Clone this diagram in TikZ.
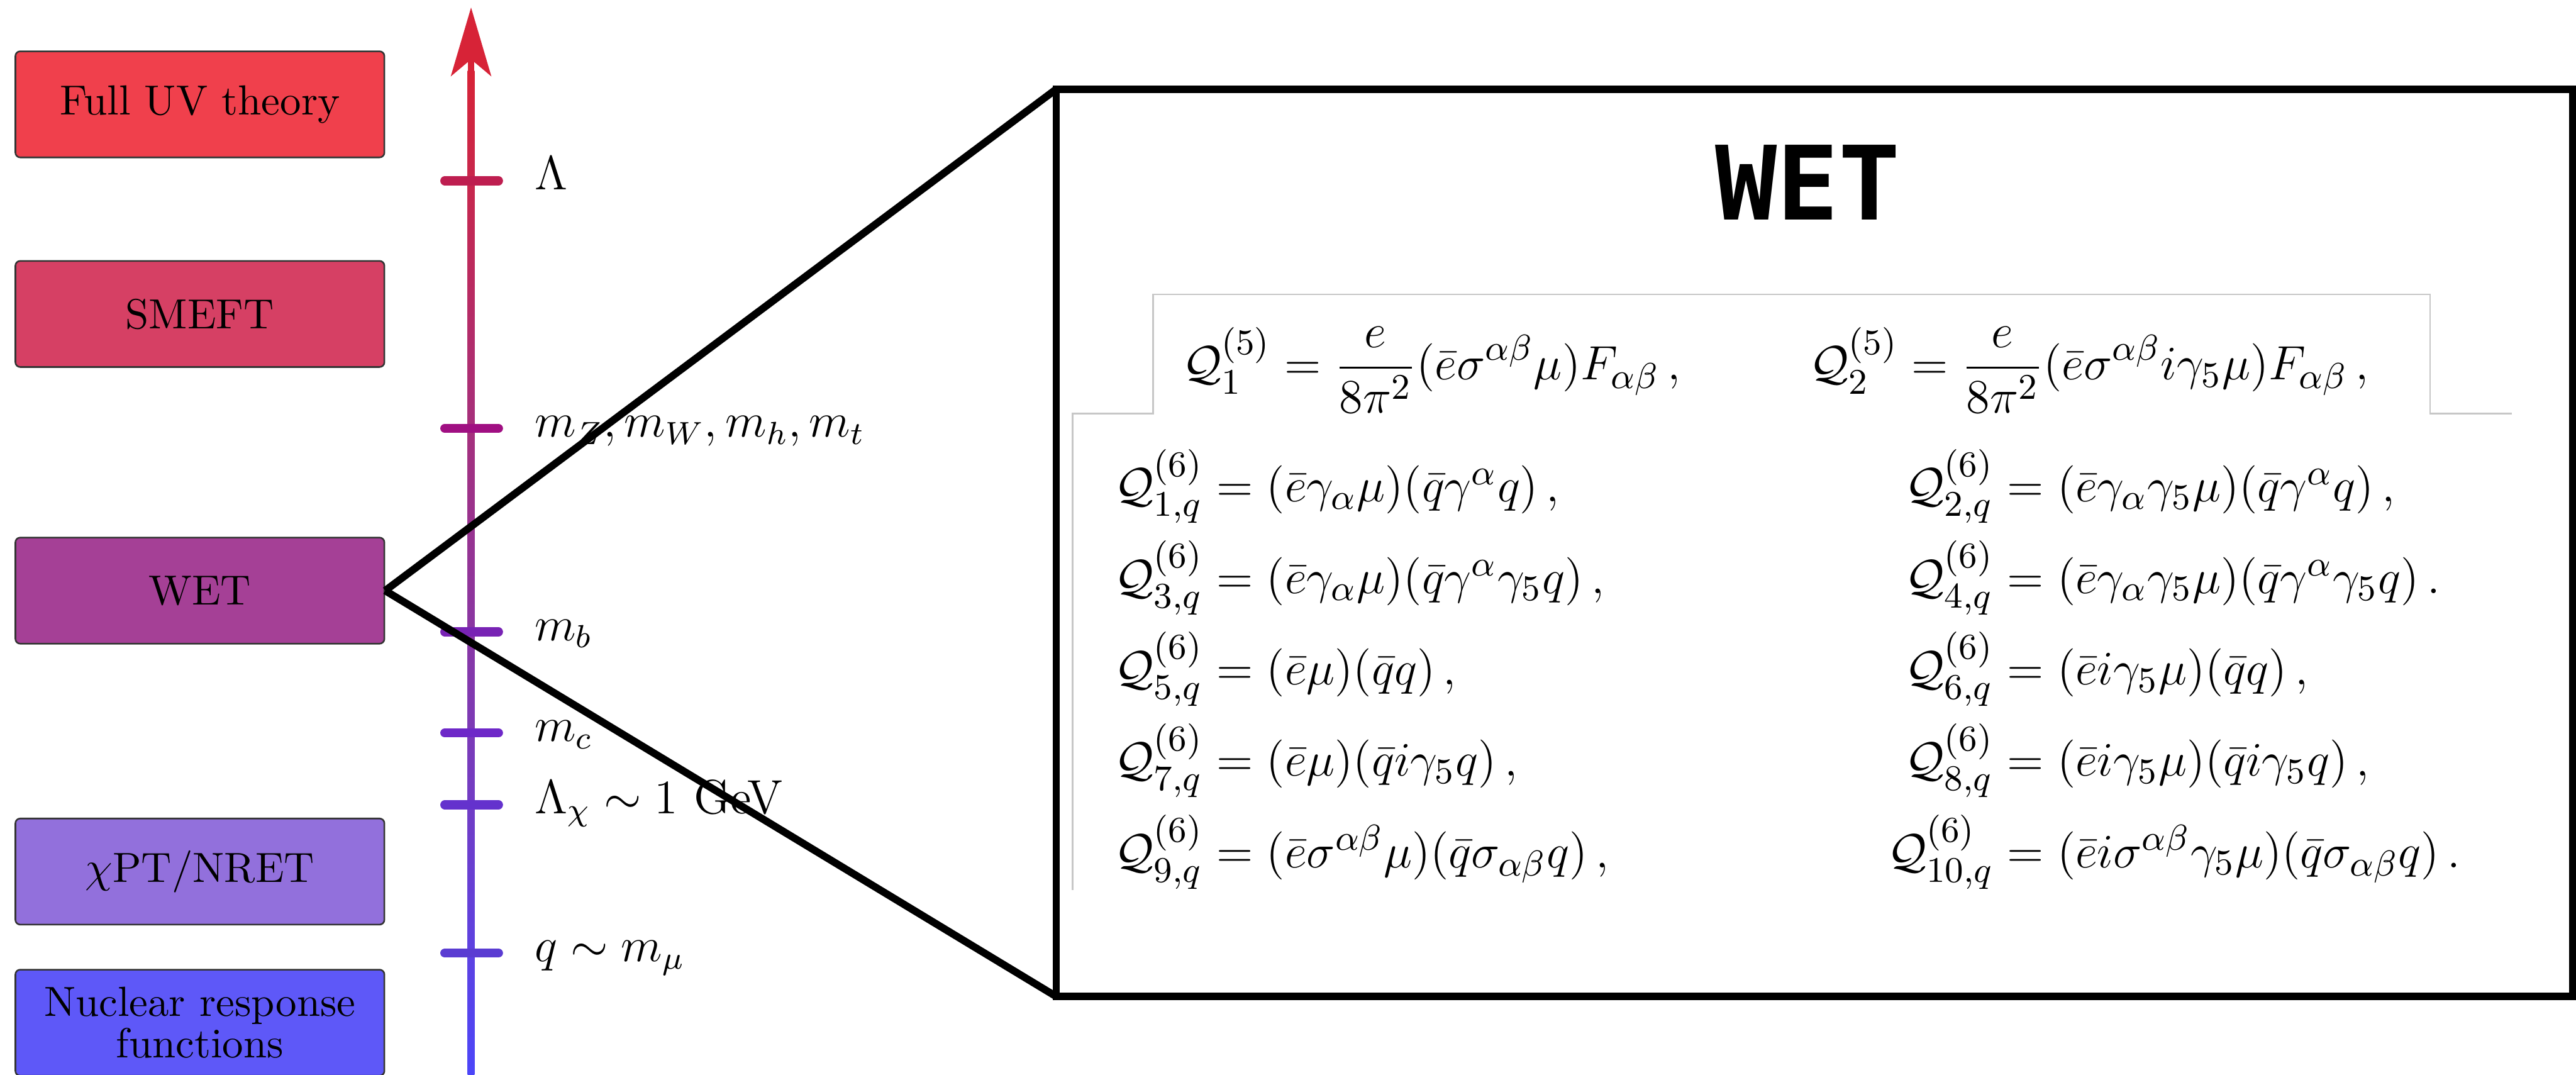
\documentclass[tikz,border=0pt]{standalone}
\usepackage{amsmath}
\usepackage{fontspec}
\newfontfamily\titlefont{DejaVu Sans Mono}
\usetikzlibrary{arrows.meta}

\definecolor{uvred}{RGB}{240,64,76}
\definecolor{smeftrose}{RGB}{214,64,100}
\definecolor{wetpurple}{RGB}{165,64,150}
\definecolor{chiviolet}{RGB}{146,112,220}
\definecolor{nucblue}{RGB}{94,88,248}
\definecolor{axtop}{RGB}{215,35,55}
\definecolor{axmid}{RGB}{160,42,140}
\definecolor{axbot}{RGB}{75,70,250}
\definecolor{tkA}{RGB}{190,30,80}
\definecolor{tkB}{RGB}{160,15,130}
\definecolor{tkC}{RGB}{120,35,180}
\definecolor{tkD}{RGB}{110,40,200}
\definecolor{tkE}{RGB}{100,50,205}
\definecolor{tkF}{RGB}{90,60,210}

\begin{document}
\begin{tikzpicture}[
  theory/.style={draw=black!80, line width=0.4pt, rounded corners=1.2pt, minimum width=3.235cm, minimum height=0.93cm, inner sep=0pt, align=center, font=\fontsize{10.5}{10.3}\selectfont},
  tick/.style={line width=0.8mm, line cap=round},
  scalelbl/.style={anchor=mid west, inner sep=0pt, font=\large},
  zoomline/.style={line width=0.65mm, draw=black},
  panelbox/.style={draw=black, line width=0.65mm, outer sep=0pt, minimum width=13.295cm, minimum height=7.9525cm},
  cutline/.style={draw=black!22, line width=0.4pt}
]
  \useasboundingbox (0,0) rectangle (22.585,9.42);

  % Cajas de las teorias efectivas
  \node[theory, fill=uvred] (uv) at (1.7525,8.505) {Full UV theory};
  \node[theory, fill=smeftrose] (smeft) at (1.7525,6.6675) {SMEFT};
  \node[theory, fill=wetpurple] (wet) at (1.7525,4.2425) {WET};
  \node[theory, fill=chiviolet] (chpt) at (1.7525,1.78) {$\chi$PT/NRET};
  \node[theory, fill=nucblue] (nuc) at (1.7525,0.455) {Nuclear response\\functions};

  % Eje de escalas de energia
  \shade[bottom color=axbot, middle color=axmid, top color=axtop] (4.10,-0.05) rectangle (4.16,8.80);
  \coordinate (axbase) at (4.13,8.70);
  \coordinate (axtip) at (4.13,9.355);
  \draw[line width=0.6mm, axtop, -{Stealth[length=6mm, width=3.5mm, inset=1.45mm]}] (axbase) -- (axtip);

  % Marcas y etiquetas de la escala
  \foreach \yy/\col/\lab [count=\i] in {7.835/tkA/{$\Lambda$}, 5.665/tkB/{$m_Z, m_W, m_h, m_t$}, 3.88/tkC/{$m_b$}, 2.995/tkD/{$m_c$}, 2.365/tkE/{$\Lambda_\chi \sim 1$ GeV}, 1.065/tkF/{$q \sim m_\mu$}} {
    \draw[tick, draw=\col] (3.90,\yy) -- (4.37,\yy);
    \node[scalelbl] (mark\i) at (4.68,\yy) {\lab};
  }

  % Recuadro ampliado del WET
  \node[panelbox] (panel) at (15.9075,4.66125) {};
  \draw[zoomline] (wet.east) -- (panel.north west);
  \draw[zoomline] (wet.east) -- (panel.south west);

  \node[font=\titlefont\bfseries\fontsize{25.6}{30}\selectfont, inner sep=0pt] (title) at (15.85,7.82) {WET};

  % Borde del recorte de la tabla
  \draw[cutline] (9.405,1.62) -- (9.405,5.795) -- (10.11,5.795) -- (10.11,6.84) -- (21.305,6.84) -- (21.305,5.795) -- (22.02,5.795);

  % Operadores de dimension cinco
  \node[anchor=base west, inner sep=0pt, font=\fontsize{13.1}{15}\selectfont] (dimfive) at (10.36,6.09)
    {$\displaystyle \mathcal{Q}_1^{(5)} = \frac{e}{8\pi^2}(\bar e\sigma^{\alpha\beta}\mu)F_{\alpha\beta}\,,\hspace{2.3em}\mathcal{Q}_2^{(5)} = \frac{e}{8\pi^2}(\bar e\sigma^{\alpha\beta}i\gamma_5\mu)F_{\alpha\beta}\,,$};

  % Operadores de dimension seis
  \node[anchor=base west, inner sep=0pt, font=\fontsize{12.75}{15}\selectfont] (dimsix) at (9.765,5.02)
    {\renewcommand{\arraystretch}{1.52}$\begin{array}[t]{@{}r@{}l@{\hspace{5.45em}}r@{}l@{}}
      \mathcal{Q}_{1,q}^{(6)} &{}= (\bar e\gamma_\alpha\mu)(\bar q\gamma^\alpha q)\,, & \mathcal{Q}_{2,q}^{(6)} &{}= (\bar e\gamma_\alpha\gamma_5\mu)(\bar q\gamma^\alpha q)\,, \\
      \mathcal{Q}_{3,q}^{(6)} &{}= (\bar e\gamma_\alpha\mu)(\bar q\gamma^\alpha\gamma_5 q)\,, & \mathcal{Q}_{4,q}^{(6)} &{}= (\bar e\gamma_\alpha\gamma_5\mu)(\bar q\gamma^\alpha\gamma_5 q)\,. \\
      \mathcal{Q}_{5,q}^{(6)} &{}= (\bar e\mu)(\bar q q)\,, & \mathcal{Q}_{6,q}^{(6)} &{}= (\bar e i\gamma_5\mu)(\bar q q)\,, \\
      \mathcal{Q}_{7,q}^{(6)} &{}= (\bar e\mu)(\bar q i\gamma_5 q)\,, & \mathcal{Q}_{8,q}^{(6)} &{}= (\bar e i\gamma_5\mu)(\bar q i\gamma_5 q)\,, \\
      \mathcal{Q}_{9,q}^{(6)} &{}= (\bar e\sigma^{\alpha\beta}\mu)(\bar q\sigma_{\alpha\beta} q)\,, & \mathcal{Q}_{10,q}^{(6)} &{}= (\bar e i\sigma^{\alpha\beta}\gamma_5\mu)(\bar q\sigma_{\alpha\beta} q)\,.
    \end{array}$};
\end{tikzpicture}
\end{document}
